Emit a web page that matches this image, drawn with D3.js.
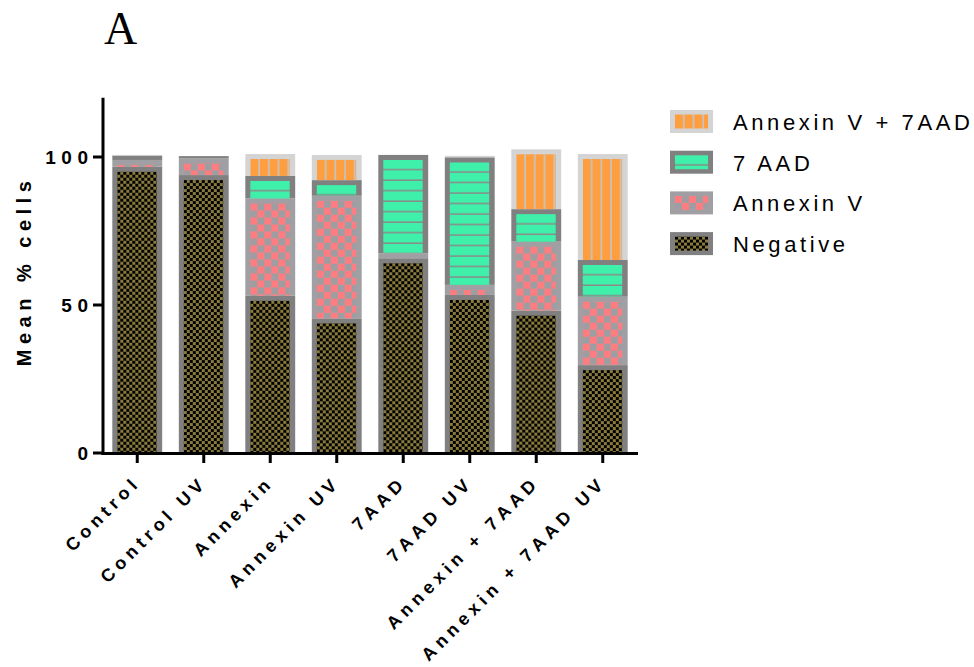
<!DOCTYPE html>
<html>
<head>
<meta charset="utf-8">
<script src="https://cdn.jsdelivr.net/npm/d3@7"></script>
<style>
  html, body { margin: 0; padding: 0; background: #fff; }
  svg { display: block; }
  .sans { font-family: Arial, "Liberation Sans", sans-serif; }
  .serif { font-family: "Liberation Serif", "Times New Roman", serif; }
</style>
</head>
<body>
<svg id="chart" width="974" height="667"></svg>
<script>
// Mean percentage of cells per staining group, stacked by population
const categories = ["Control", "Control UV", "Annexin", "Annexin UV", "7AAD", "7AAD UV", "Annexin + 7AAD", "Annexin + 7AAD UV"];
const negative   = [96.7, 93.9, 53.1, 45.5, 65.8, 53.4, 48.1, 29.7];
const annexinV   = [2.3, 5.6, 32.9, 41.4, 1.7, 3.4, 23.3, 23.1];
const aad7       = [1.5, 0.8, 7.6, 5.3, 33.2, 43.1, 11.0, 12.4];
const annexinAad = [0.2, 0.0, 7.4, 8.5, 0.0, 0.5, 20.2, 35.8];
const seriesKeys  = ["neg", "av", "aad", "avaad"];
const seriesNames = ["Negative", "Annexin V", "7 AAD", "Annexin V + 7AAD"];
const yTicks = [0, 50, 100];

const rows = categories.map((c, i) => ({
  cat: c, neg: negative[i], av: annexinV[i], aad: aad7[i], avaad: annexinAad[i]
}));

const svg = d3.select("#chart");
const defs = svg.append("defs");

const x = d3.scaleBand().domain(categories).range([104, 636]).paddingInner(0.25).paddingOuter(0.125);
const y = d3.scaleLinear().domain([0, 120]).range([453, 97.8]);

// Border colour per population
const style = {
  neg:   { border: "#808080" },
  av:    { border: "#a0a0a4" },
  aad:   { border: "#808080" },
  avaad: { border: "#d4d4d4" }
};

// Builds a tile pattern anchored at (ox, oy)
function makePattern(id, key, ox, oy) {
  let p;
  if (key === "neg") {
    p = defs.append("pattern").attr("id", id).attr("patternUnits", "userSpaceOnUse")
      .attr("x", ox).attr("y", oy).attr("width", 6).attr("height", 6);
    p.append("rect").attr("width", 6).attr("height", 6).attr("fill", "#8a7b3c");
    p.append("rect").attr("width", 3).attr("height", 3).attr("fill", "#000");
    p.append("rect").attr("x", 3).attr("y", 3).attr("width", 3).attr("height", 3).attr("fill", "#000");
  } else if (key === "av") {
    p = defs.append("pattern").attr("id", id).attr("patternUnits", "userSpaceOnUse")
      .attr("x", ox).attr("y", oy).attr("width", 14).attr("height", 14);
    p.append("rect").attr("width", 14).attr("height", 14).attr("fill", "#9e9ea2");
    p.append("rect").attr("width", 7).attr("height", 7).attr("fill", "#ff7d80");
    p.append("rect").attr("x", 7).attr("y", 7).attr("width", 7).attr("height", 7).attr("fill", "#ff7d80");
  } else if (key === "aad") {
    p = defs.append("pattern").attr("id", id).attr("patternUnits", "userSpaceOnUse")
      .attr("x", ox).attr("y", oy).attr("width", 60).attr("height", 10.5);
    p.append("rect").attr("width", 60).attr("height", 10.5).attr("fill", "#8a8a8a");
    p.append("rect").attr("y", 0).attr("width", 60).attr("height", 9).attr("fill", "#3ef0a9");
  } else {
    p = defs.append("pattern").attr("id", id).attr("patternUnits", "userSpaceOnUse")
      .attr("x", ox).attr("y", oy).attr("width", 9.7).attr("height", 60);
    p.append("rect").attr("width", 9.7).attr("height", 60).attr("fill", "#c4c4c4");
    p.append("rect").attr("x", 0).attr("width", 8).attr("height", 60).attr("fill", "#ff9e3e");
  }
  return "url(#" + id + ")";
}

const stacked = d3.stack().keys(seriesKeys)(rows);
const inset = 5;

const bars = svg.append("g").attr("class", "bars");
stacked.forEach(layer => {
  const key = layer.key;
  layer.forEach((d, i) => {
    const x0 = x(d.data.cat), w = x.bandwidth();
    const yTop = y(d[1]), yBot = y(d[0]);
    const h = yBot - yTop;
    if (h <= 0) return;
    const g = bars.append("g");
    g.append("rect").attr("x", x0).attr("y", yTop).attr("width", w).attr("height", h)
      .attr("fill", style[key].border);
    const ih = h - inset;
    if (ih > 0.5) {
      const fill = makePattern("p-" + key + "-" + i, key, x0 + inset, yTop + inset);
      g.append("rect").attr("x", x0 + inset).attr("y", yTop + inset)
        .attr("width", w - 2 * inset - 0.5).attr("height", ih).attr("fill", fill);
    }
  });
});

// Axes
const axisG = svg.append("g").attr("class", "sans");
axisG.append("line").attr("x1", 103).attr("x2", 103).attr("y1", y(120)).attr("y2", y(0) + 1.5)
  .attr("stroke", "#000").attr("stroke-width", 3);
axisG.append("line").attr("x1", 101.5).attr("x2", 638).attr("y1", y(0) + 0.5).attr("y2", y(0) + 0.5)
  .attr("stroke", "#000").attr("stroke-width", 3);

axisG.selectAll(".ytick").data(yTicks).enter().append("line")
  .attr("x1", 93).attr("x2", 103).attr("y1", d => y(d)).attr("y2", d => y(d))
  .attr("stroke", "#000").attr("stroke-width", 3);
axisG.selectAll(".ylab").data(yTicks).enter().append("text")
  .attr("x", 88).attr("y", d => y(d)).attr("dy", "0.36em")
  .attr("text-anchor", "end").attr("font-size", 19).attr("font-weight", "bold")
  .attr("letter-spacing", "5.5px").attr("dx", 5.5)
  .text(d => d);

axisG.selectAll(".xtick").data(categories).enter().append("line")
  .attr("x1", d => x(d) + x.bandwidth() / 2).attr("x2", d => x(d) + x.bandwidth() / 2)
  .attr("y1", 454).attr("y2", 463)
  .attr("stroke", "#000").attr("stroke-width", 3);
axisG.selectAll(".xlab").data(categories).enter().append("text")
  .attr("transform", d => "translate(" + (x(d) + x.bandwidth() / 2 + 1) + ",487) rotate(-45)")
  .attr("text-anchor", "end").attr("font-size", 18).attr("font-weight", "bold")
  .attr("letter-spacing", "4.8px").attr("dx", 4.8)
  .text(d => d);

// Axis title
svg.append("text").attr("class", "sans")
  .attr("transform", "translate(31,271) rotate(-90)")
  .attr("text-anchor", "middle").attr("font-size", 20).attr("font-weight", "bold")
  .attr("letter-spacing", "5.5px")
  .text("Mean % cells");

// Panel letter
svg.append("text").attr("class", "serif").attr("x", 104).attr("y", 44)
  .attr("font-size", 46)
  .text("A");

// Legend, top series first
const legend = svg.append("g").attr("class", "sans");
const legendKeys = seriesKeys.slice().reverse();
legendKeys.forEach((key, j) => {
  const ly = 110 + j * 40.7;
  legend.append("rect").attr("x", 670).attr("y", ly).attr("width", 43).attr("height", 23)
    .attr("fill", style[key].border);
  const fill = makePattern("lg-" + key, key, 675, ly + 4.5);
  legend.append("rect").attr("x", 675).attr("y", ly + 4.5).attr("width", 33).attr("height", 14)
    .attr("fill", fill);
  legend.append("text").attr("x", 733).attr("y", ly + 20)
    .attr("font-size", 22).attr("letter-spacing", "3.6px")
    .text(seriesNames[seriesKeys.indexOf(key)]);
});
</script>
</body>
</html>
